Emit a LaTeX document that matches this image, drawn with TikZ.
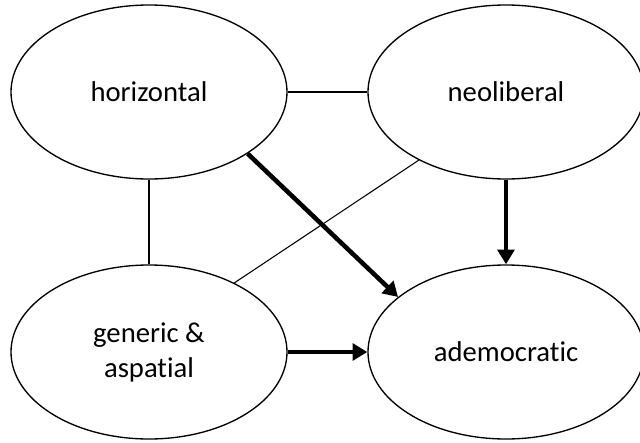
\documentclass[tikz,border=0pt]{standalone}
\usepackage{fontspec}
\setmainfont{Carlito}[Ligatures={NoCommon,NoRequired,NoContextual}]
\usetikzlibrary{shapes.geometric,arrows.meta}
\begin{document}
\begin{tikzpicture}[x=0.75pt,y=-0.75pt,
  oval/.style={ellipse,draw,line width=1pt,inner sep=0pt,minimum width=207pt,minimum height=130.5pt,
    font=\fontsize{21.5}{26.25}\selectfont,align=center},
  thin/.style={line width=0.8pt},
  thick arrow/.style={line width=3.4pt,-{Triangle[width=12.5pt,length=11pt]}}]
\useasboundingbox (0,0) rectangle (640,443);
\node[oval] (h) at (149,92) {horizontal};
\node[oval] (n) at (506,92) {neoliberal};
\node[oval] (g) at (149,352) {generic \&\\aspatial};
\node[oval] (a) at (506,352) {ademocratic};
\draw[thin] (h.east) -- (n.west);
\draw[thin] (h.south) -- (g.north);
\draw[thin] (n.-142.4) -- (g.39.5);
\draw[thick arrow] (h.-32.6) -- (a.153.7);
\draw[thick arrow] (n.south) -- (a.north);
\draw[thick arrow] (g.east) -- (a.west);
\end{tikzpicture}
\end{document}
